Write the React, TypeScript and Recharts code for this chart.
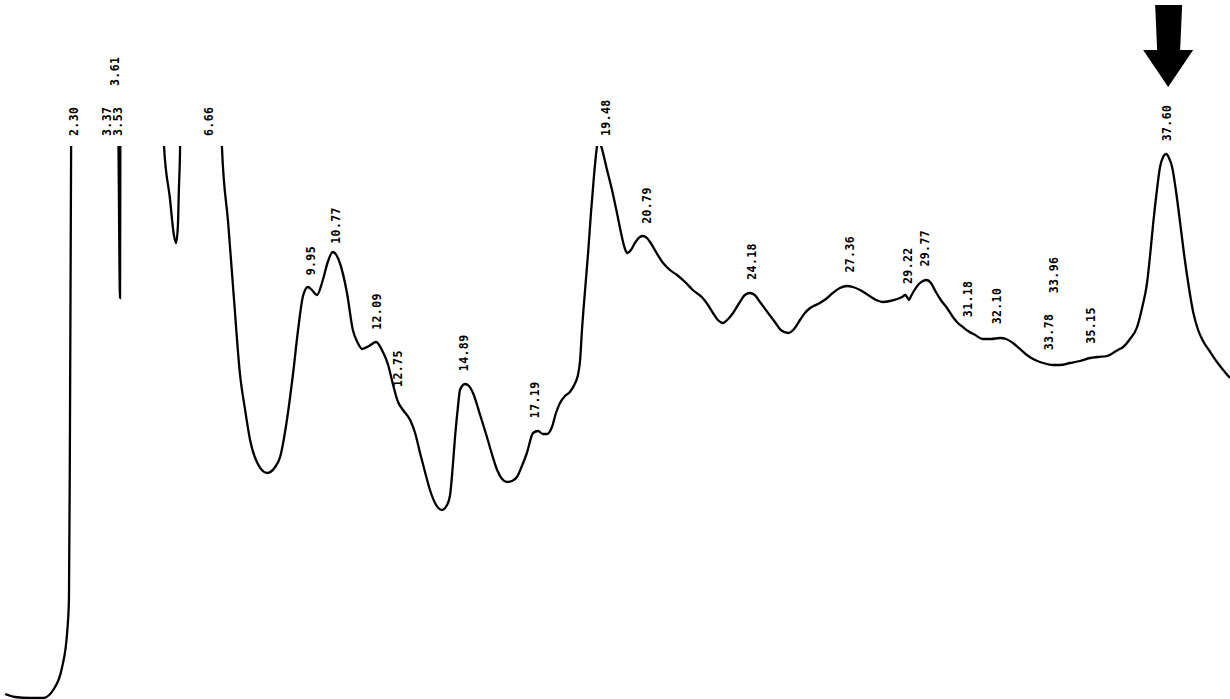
import React from "react";
import { LineChart, Line, XAxis, YAxis, ReferenceDot } from "recharts";

// Retention time (min) of each sampled point on the trace
const retentionTime = [
  0.07, 0.39, 0.87, 1.29, 1.62, 1.91, 2.07, 2.13, 2.16, 2.2,
  2.23, 2.3, 3.0, 3.4, 3.53, 3.65, 3.73, 3.78, 3.79, 3.83,
  4.5, 5.07, 5.2, 5.39, 5.52, 5.59, 5.65, 5.68, 5.72, 5.78,
  6.66, 6.94, 7.07, 7.27, 7.46, 7.65, 7.82, 7.98, 8.2, 8.53,
  8.79, 8.95, 9.17, 9.37, 9.53, 9.69, 9.85, 9.98, 10.14, 10.33,
  10.49, 10.65, 10.88, 11.11, 11.3, 11.46, 11.6, 11.82, 12.05, 12.27,
  12.44, 12.56, 12.76, 12.92, 13.15, 13.31, 13.47, 13.63, 13.79, 13.99,
  14.18, 14.34, 14.44, 14.53, 14.6, 14.7, 14.76, 14.92, 15.05, 15.18,
  15.41, 15.63, 15.8, 15.96, 16.12, 16.28, 16.44, 16.6, 16.76, 16.92,
  17.12, 17.28, 17.44, 17.57, 17.73, 17.86, 17.99, 18.15, 18.31, 18.48,
  18.57, 18.64, 18.7, 18.8, 18.9, 18.99, 19.09, 19.17, 19.23, 19.28,
  19.38, 19.51, 19.67, 19.83, 19.99, 20.09, 20.16,
  20.28, 20.41, 20.57, 20.67,
  20.8, 20.9, 21.09, 21.32, 21.54, 21.77, 22.03, 22.28, 22.6, 22.77,
  22.93, 23.09, 23.25, 23.42, 23.58, 23.8, 23.96, 24.12, 24.28, 24.45,
  24.71, 24.93, 25.12, 25.36, 25.55, 25.74, 25.9, 26.07, 26.32, 26.58,
  26.8, 27.03, 27.26, 27.45, 27.68, 27.94, 28.2, 28.42, 28.65, 28.88,
  29.04, 29.14, 29.2, 29.26, 29.33, 29.42, 29.58, 29.71, 29.84, 29.97,
  30.13, 30.29, 30.49, 30.68, 30.84, 31.0, 31.17, 31.4, 31.65, 31.91,
  32.2, 32.4, 32.62, 32.85, 33.07, 33.27, 33.49, 33.72, 33.91, 34.14,
  34.46, 34.79, 35.11, 35.37, 35.66, 35.85, 36.01, 36.18, 36.4, 36.63,
  36.79, 36.95, 37.05, 37.15, 37.27, 37.37, 37.47, 37.57, 37.66, 37.76,
  37.89, 38.02, 38.15, 38.28, 38.44, 38.6, 38.76, 38.99, 39.21, 39.41,
  39.63,
];

// Detector signal (arbitrary units); values above the recorder range run off the top
const signal = [
  5, 2, 1, 1, 9, 32, 66, 99, 249, 553,
  900, 1100, 1000, 950, 980, 800, 553, 401, 553, 900,
  950, 800, 553, 501, 464, 456, 474, 509, 553, 900,
  1200, 800, 553, 477, 400, 326, 289, 259, 237, 226,
  232, 242, 279, 326, 369, 403, 412, 409, 404, 419,
  437, 447, 436, 406, 369, 356, 350, 353, 357, 347,
  334, 319, 297, 289, 279, 266, 246, 227, 209, 194,
  189, 194, 204, 234, 262, 294, 309, 315, 313, 306,
  284, 262, 244, 229, 220, 217, 218, 222, 233, 246,
  266, 268, 265, 265, 272, 286, 296, 303, 307, 316,
  324, 339, 369, 409, 447, 486, 524, 549, 561, 557,
  546, 529, 509, 486, 462, 450, 446,
  449, 456, 462, 463,
  461, 457, 447, 436, 429, 424, 417, 409, 401, 394,
  386, 379, 376, 380, 386, 397, 404, 406, 404, 397,
  386, 377, 369, 366, 370, 379, 386, 391, 395, 400,
  406, 411, 413, 412, 409, 404, 399, 397, 398, 400,
  402, 404, 402, 399, 403, 408, 415, 418, 419, 416,
  407, 399, 391, 382, 376, 372, 368, 364, 360, 360,
  361, 360, 356, 350, 344, 340, 337, 335, 334, 334,
  336, 338, 341, 342, 343, 346, 349, 352, 360, 372,
  391, 416, 444, 476, 509, 532, 542, 545, 541, 532,
  507, 476, 444, 416, 387, 369, 358, 347, 337, 329,
  321,
];

// Integrator peak labels (retention times, min)
const peakTimes = [
  2.3, 3.37, 3.53, 3.61, 6.66, 9.95, 10.77, 12.09, 12.75, 14.89, 17.19,
  19.48, 20.79, 24.18, 27.36, 29.22, 29.77, 31.18, 32.1, 33.78, 33.96,
  35.15, 37.6,
];

// Peak marked with the arrow
const markedPeak = 37.6;

const W = 1230;
const H = 699;
const TOP = 146;
const T_MIN = -0.097;
const T_MAX = 39.63;
const Y_MAX = 553;

const data = retentionTime.map((t, i) => ({ t, s: signal[i] }));

const xPx = (t: number) => ((t - T_MIN) / (T_MAX - T_MIN)) * W;
const pxPerUnit = (H - TOP) / Y_MAX;

function interp(t: number) {
  for (let i = 0; i < retentionTime.length - 1; i++) {
    const a = retentionTime[i];
    const b = retentionTime[i + 1];
    if (t >= a && t <= b) {
      const f = (t - a) / (b - a);
      return signal[i] + f * (signal[i + 1] - signal[i]);
    }
  }
  return 0;
}

function windowMax(t: number, w: number) {
  let m = interp(t);
  retentionTime.forEach((rt, i) => {
    if (Math.abs(rt - t) <= w) m = Math.max(m, signal[i]);
  });
  return m;
}

type Placed = { x: number; bottom: number; len: number; shifted: boolean };

function layoutLabels() {
  const placed: Placed[] = [];
  const out: { rt: number; text: string; base: number; dx: number; dy: number }[] = [];
  const overlap = (a: Placed, b: Placed) =>
    Math.abs(a.x - b.x) < 10 && a.bottom - a.len < b.bottom && b.bottom - b.len < a.bottom;
  peakTimes.forEach((rt) => {
    const text = rt.toFixed(2);
    const len = text.length * 7;
    const clipped = windowMax(rt, 0.2) >= Y_MAX;
    const base = clipped ? Y_MAX : Math.min(interp(rt), Y_MAX);
    const gap = clipped ? 10 : 14;
    const x0 = xPx(rt);
    const baseY = TOP + (Y_MAX - base) * pxPerUnit;
    let cand: Placed = { x: x0, bottom: baseY - gap, len, shifted: false };
    let cols = placed.filter((p) => overlap(cand, p));
    if (cols.length > 0) {
      let done = false;
      if (clipped && cols.length === 1 && !cols[0].shifted) {
        const c2 = { ...cand, x: cols[0].x + 11, shifted: true };
        if (!placed.some((p) => overlap(c2, p))) {
          cand = c2;
          done = true;
        }
      }
      while (!done) {
        cand = { ...cand, x: x0, bottom: Math.min(...cols.map((p) => p.bottom - p.len)) - 22 };
        cols = placed.filter((p) => overlap(cand, p));
        if (cols.length === 0) done = true;
      }
    }
    placed.push(cand);
    out.push({ rt, text, base, dx: cand.x - x0, dy: cand.bottom - baseY });
  });
  return out;
}

const labels = layoutLabels();

export default function App() {
  return (
    <div style={{ position: "absolute", left: 0, top: 0, width: W, height: H, background: "#fff" }}>
      <LineChart width={W} height={H} data={data} margin={{ top: TOP, right: 0, bottom: 0, left: 0 }}>
        <XAxis dataKey="t" type="number" domain={[T_MIN, T_MAX]} allowDataOverflow hide />
        <YAxis type="number" domain={[0, Y_MAX]} allowDataOverflow hide />
        <Line
          type="monotone"
          dataKey="s"
          stroke="#000"
          strokeWidth={2.3}
          dot={false}
          activeDot={false}
          isAnimationActive={false}
        />
        {labels.map((l) => (
          <ReferenceDot
            key={l.text}
            x={l.rt}
            y={l.base}
            r={0}
            ifOverflow="visible"
            shape={(p: any) => {
              const x = p.cx + l.dx;
              const y = p.cy + l.dy;
              return (
                <text
                  x={x}
                  y={y}
                  transform={`rotate(-90 ${x} ${y})`}
                  textAnchor="start"
                  dominantBaseline="central"
                  fontFamily="DejaVu Sans Mono"
                  fontWeight="bold"
                  fontSize={11.5}
                  letterSpacing={0.4}
                  fill="#000"
                >
                  {l.text}
                </text>
              );
            }}
          />
        ))}
        <ReferenceDot
          x={markedPeak}
          y={Y_MAX}
          r={0}
          ifOverflow="visible"
          shape={(p: any) => {
            const cx = p.cx;
            const cy = p.cy;
            const d = `M ${cx - 12} ${cy - 141} L ${cx + 15} ${cy - 141} L ${cx + 13} ${cy - 96} L ${cx + 26} ${cy - 96} L ${cx + 1} ${cy - 59} L ${cx - 24} ${cy - 96} L ${cx - 10} ${cy - 96} Z`;
            return <path d={d} fill="#000" />;
          }}
        />
      </LineChart>
    </div>
  );
}
